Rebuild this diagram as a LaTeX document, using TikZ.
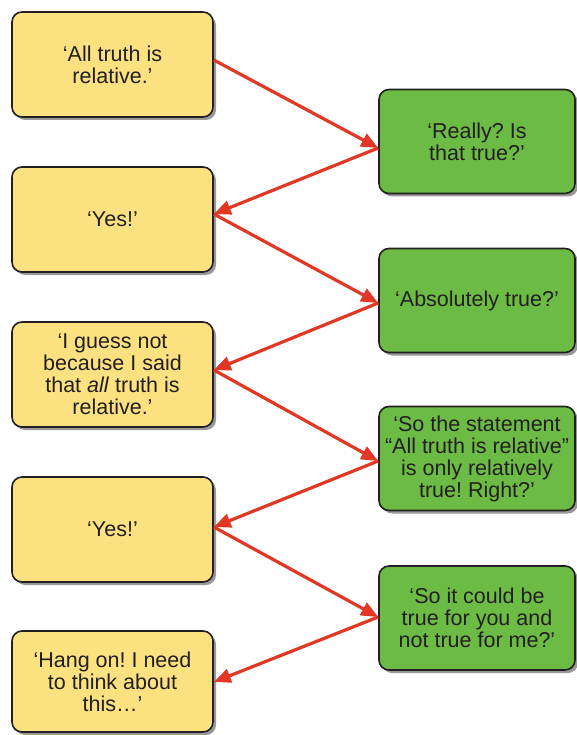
\documentclass[tikz,border=0pt]{standalone}
\usepackage{fontspec}
\setmainfont{Liberation Sans}
\usetikzlibrary{arrows.meta,shadows}
\definecolor{boxyellow}{RGB}{251,225,128}
\definecolor{boxgreen}{RGB}{108,187,69}
\definecolor{arrowred}{RGB}{224,56,36}
\definecolor{textdark}{RGB}{35,31,32}
\frenchspacing
\begin{document}
\begin{tikzpicture}[x=1pt,y=1pt,
  box/.style={draw=textdark, line width=1.6pt, rounded corners=10pt, align=center,
    font=\fontsize{21.5}{22}\selectfont, text=textdark, inner sep=0pt,
    general shadow={fill=black!40, shadow xshift=3pt, shadow yshift=-3pt}},
  ybox/.style={box, fill=boxyellow, minimum width=201pt, minimum height=105pt},
  gbox/.style={box, fill=boxgreen, minimum width=196pt, minimum height=104pt},
  arr/.style={draw=arrowred, line width=3.2pt, -{Triangle[length=17pt,width=14pt]}}]
\useasboundingbox (0,0) rectangle (576,-735);

\node[ybox] (y1) at (112.5,-64.5) {‘All truth is\\relative.’};
\node[ybox] (y2) at (112.5,-219.5) {‘Yes!’};
\node[ybox] (y3) at (112.5,-374.5) {‘I guess not\\because I said\\that \textit{all} truth is\\relative.’};
\node[ybox] (y4) at (112.5,-529.5) {‘Yes!’};
\node[ybox, minimum height=101pt] (y5) at (112.5,-681.5) {‘Hang on! I need\\to think about\\this…’};

\node[gbox] (g1) at (477,-141.5) {‘Really? Is\\that true?’};
\node[gbox] (g2) at (477,-300.5) {‘Absolutely true?’};
\node[gbox] (g3) at (477,-458.5) {‘So the statement\\“All truth is relative”\\is only relatively\\true! Right?’};
\node[gbox] (g4) at (477,-618) {‘So it could be\\true for you and\\not true for me?’};

\draw[arr] ([yshift=4.5pt]y1.east) -- ([yshift=-6.5pt]g1.west);
\draw[arr] ([yshift=-6.5pt]g1.west) -- ([yshift=5.5pt]y2.east);
\draw[arr] ([yshift=5.5pt]y2.east) -- ([yshift=-2.5pt]g2.west);
\draw[arr] ([yshift=-2.5pt]g2.west) -- ([yshift=4.5pt]y3.east);
\draw[arr] ([yshift=4.5pt]y3.east) -- ([yshift=-2.5pt]g3.west);
\draw[arr] ([yshift=-2.5pt]g3.west) -- ([yshift=2.5pt]y4.east);
\draw[arr] ([yshift=2.5pt]y4.east) -- ([yshift=1pt]g4.west);
\draw[arr] ([yshift=1pt]g4.west) -- ([yshift=-0.5pt]y5.east);
\end{tikzpicture}
\end{document}
